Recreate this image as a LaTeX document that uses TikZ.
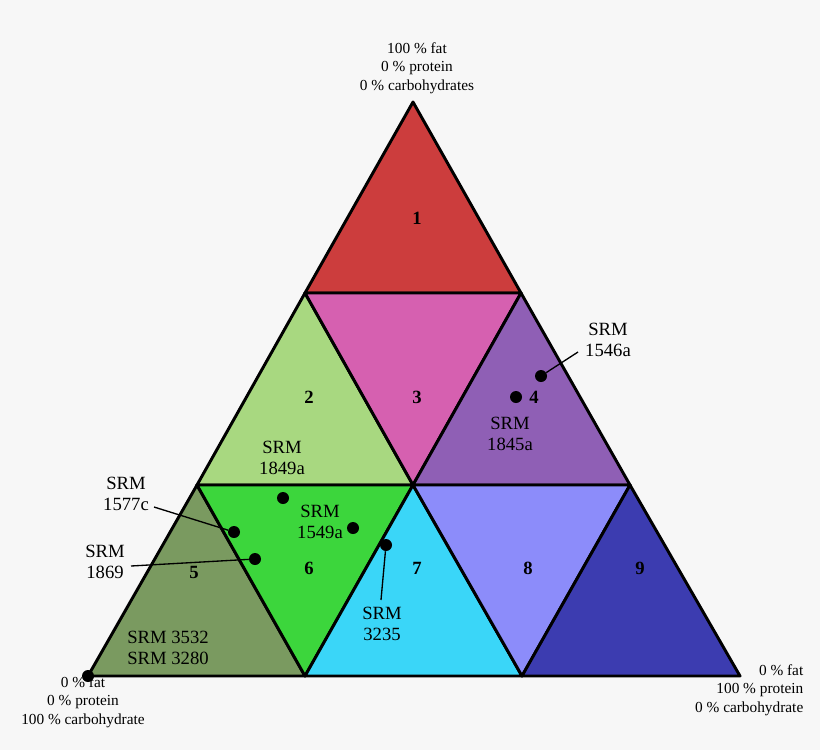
\documentclass[tikz,border=0pt]{standalone}
\usepackage{fontspec}
\setmainfont{Liberation Serif}
\begin{document}
\begin{tikzpicture}[x=0.75pt,y=-0.75pt,
  tri/.style={draw=black,line width=2.2pt,line join=round},
  dot/.style={circle,fill=black,inner sep=0pt,minimum size=9pt},
  lbl/.style={font=\fontsize{14}{16}\selectfont,align=center},
  num/.style={font=\fontsize{14}{16}\selectfont\bfseries},
  corner/.style={font=\fontsize{11.5}{14}\selectfont,align=center},
  lead/.style={line width=1pt}]
\fill[white!97!black] (0,0) rectangle (820,750);
\useasboundingbox (0,0) rectangle (820,750);
% vertices
\coordinate (A) at (413,102);
\coordinate (B1) at (305,293); \coordinate (B2) at (521,293);
\coordinate (C1) at (197,485); \coordinate (C2) at (413,485); \coordinate (C3) at (630,485);
\coordinate (D1) at (88,676); \coordinate (D2) at (305,676); \coordinate (D3) at (522,676); \coordinate (D4) at (740,676);
\filldraw[tri,fill={rgb,255:red,204;green,61;blue,61}] (A)--(B1)--(B2)--cycle;
\filldraw[tri,fill={rgb,255:red,168;green,216;blue,128}] (B1)--(C1)--(C2)--cycle;
\filldraw[tri,fill={rgb,255:red,214;green,96;blue,176}] (B1)--(B2)--(C2)--cycle;
\filldraw[tri,fill={rgb,255:red,143;green,95;blue,181}] (B2)--(C2)--(C3)--cycle;
\filldraw[tri,fill={rgb,255:red,122;green,154;blue,96}] (C1)--(D1)--(D2)--cycle;
\filldraw[tri,fill={rgb,255:red,60;green,214;blue,60}] (C1)--(C2)--(D2)--cycle;
\filldraw[tri,fill={rgb,255:red,58;green,214;blue,248}] (C2)--(D2)--(D3)--cycle;
\filldraw[tri,fill={rgb,255:red,140;green,140;blue,250}] (C2)--(C3)--(D3)--cycle;
\filldraw[tri,fill={rgb,255:red,60;green,60;blue,176}] (C3)--(D3)--(D4)--cycle;
% numbers
\node[num] (n1) at (417,218) {1};
\node[num] (n2) at (309,397) {2};
\node[num] (n3) at (417,397) {3};
\node[num] (n4) at (534,397) {4};
\node[num] (n5) at (194,572) {5};
\node[num] (n6) at (309,568) {6};
\node[num] (n7) at (417,568) {7};
\node[num] (n8) at (528,568) {8};
\node[num] (n9) at (640,568) {9};
% corner labels
\node[corner] (ct) at (417,68) {100 \% fat\\0 \% protein\\0 \% carbohydrates};
\node[corner] (cl) at (83,702) {0 \% fat\\0 \% protein\\100 \% carbohydrate};
\node[corner,align=right,anchor=east] (cr) at (808,690) {0 \% fat\\100 \% protein\\0 \% carbohydrate};
% dots
\node[dot] (d0) at (D1) {};
\node[dot] (p1546) at (541,376) {};
\node[dot] (p1845) at (516,397) {};
\node[dot] (p1849) at (283,498) {};
\node[dot] (p1549) at (353,528) {};
\node[dot] (p1577) at (234,532) {};
\node[dot] (p1869) at (255,559) {};
\node[dot] (p3235) at (386,545) {};
% labels
\node[lbl] (l1546) at (608,340) {SRM\\1546a};
\node[lbl] (l1845) at (510,434) {SRM\\1845a};
\node[lbl] (l1849) at (282,458) {SRM\\1849a};
\node[lbl] (l1549) at (320,522) {SRM\\1549a};
\node[lbl] (l1577) at (126,494) {SRM\\1577c};
\node[lbl] (l1869) at (105,562) {SRM\\1869};
\node[lbl] (l3235) at (382,624) {SRM\\3235};
\node[lbl] (l3532) at (168,648) {SRM 3532\\SRM 3280};
% leaders
\coordinate (e1546) at (578,352);
\coordinate (e1577) at (154,507);
\coordinate (e1869) at (131,566);
\coordinate (e3235) at (381,600);
\draw[lead] (p1546)--(e1546);
\draw[lead] (p1577)--(e1577);
\draw[lead] (p1869)--(e1869);
\draw[lead] (p3235)--(e3235);
\end{tikzpicture}
\end{document}
